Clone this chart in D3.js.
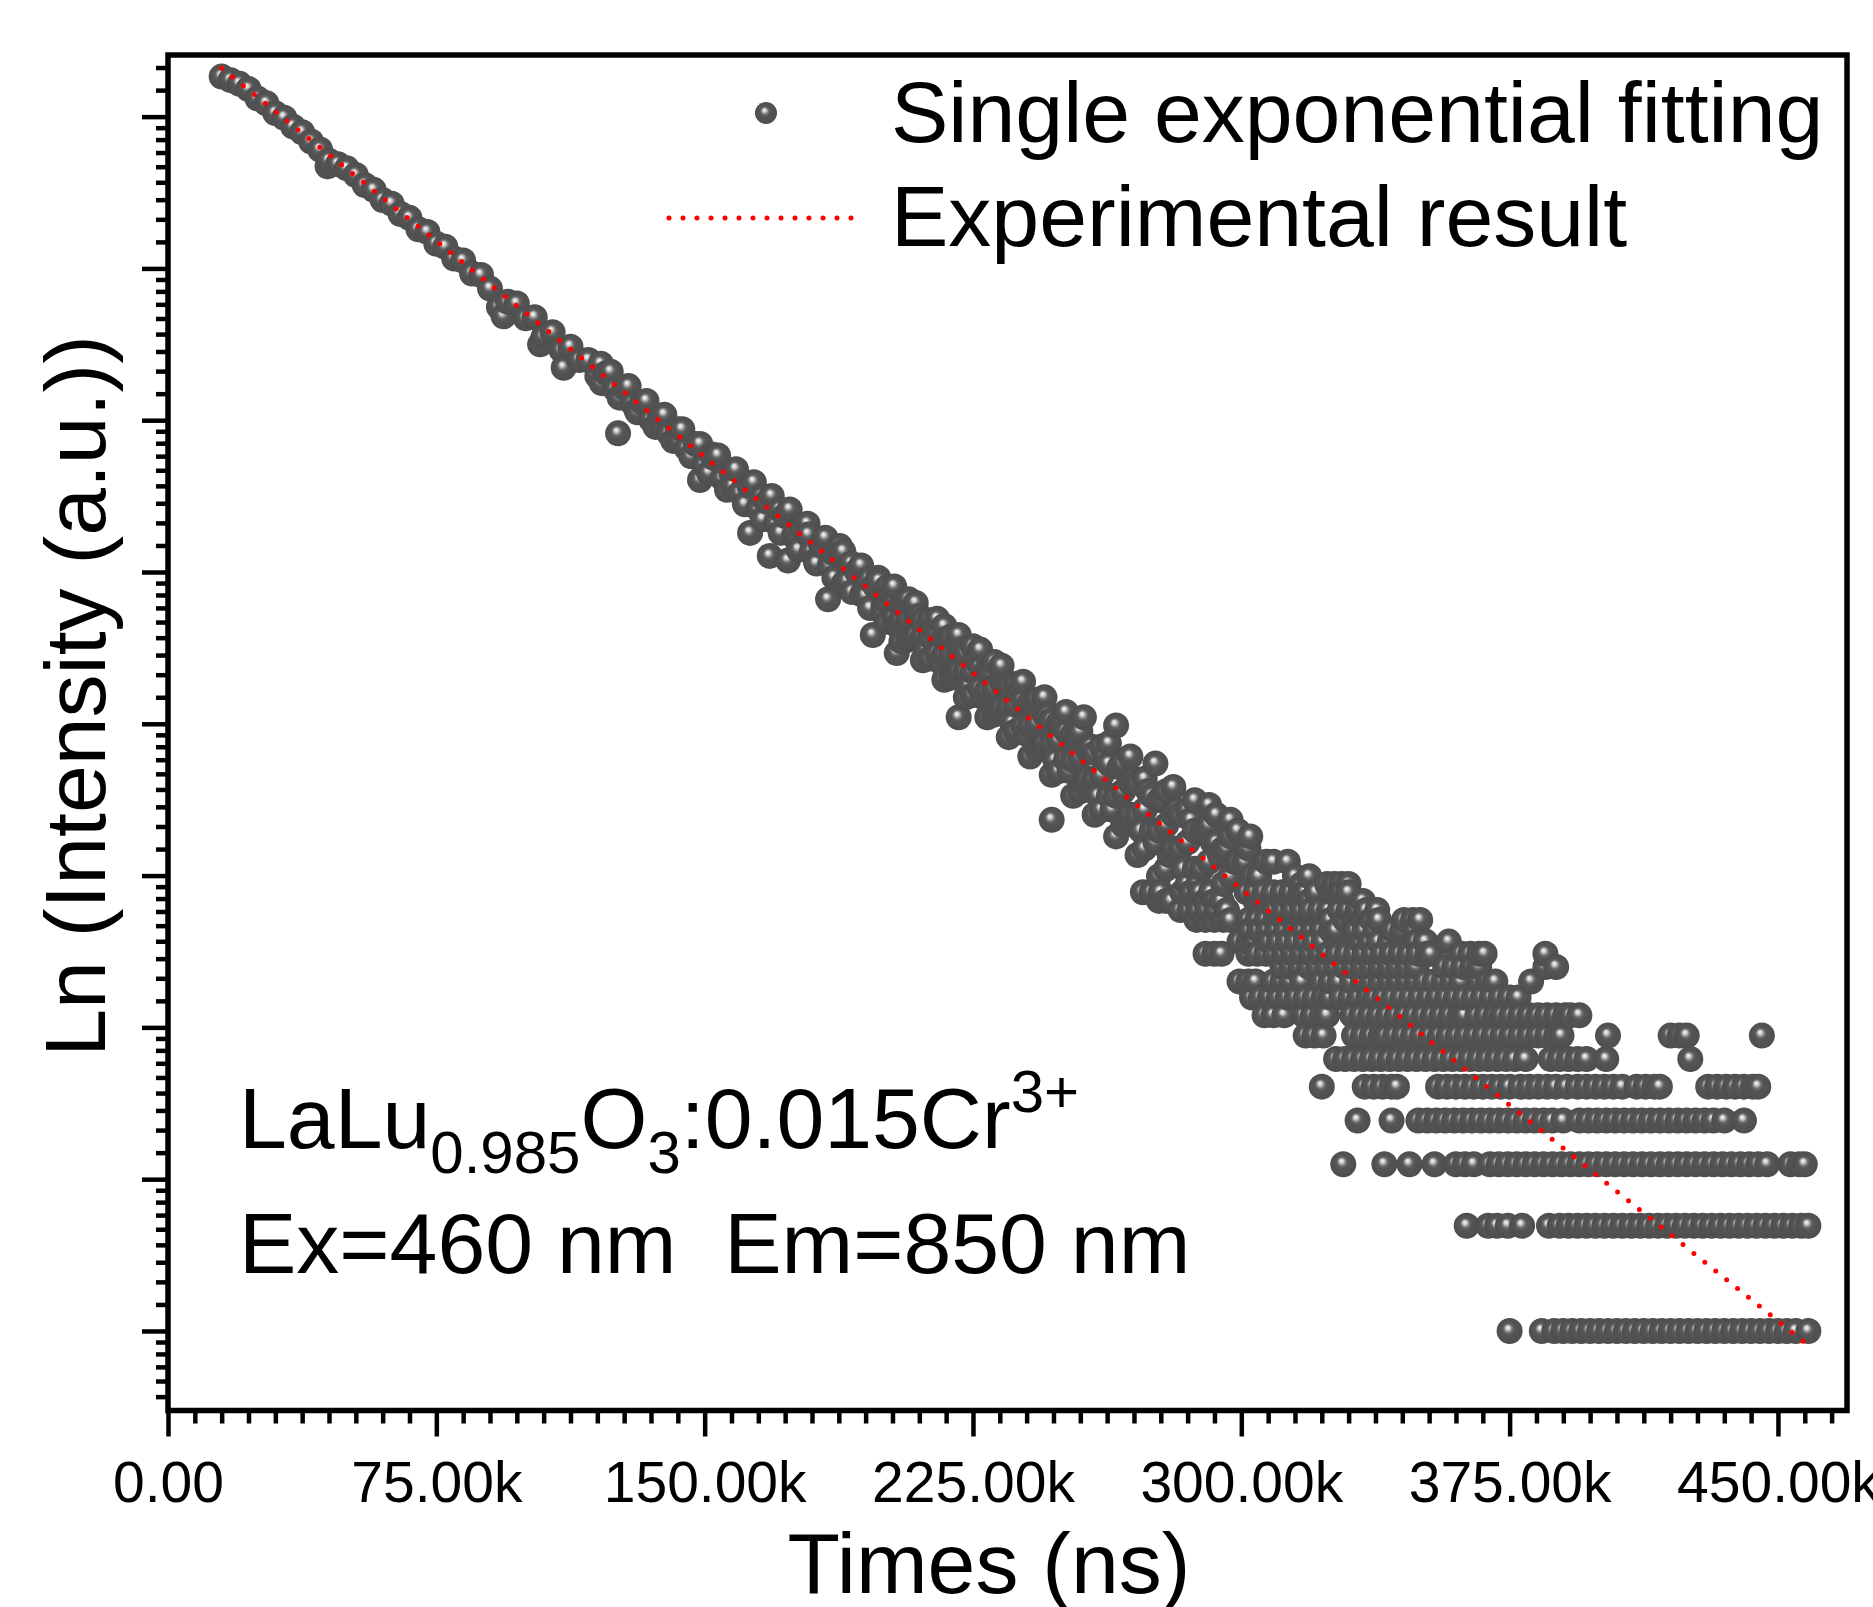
<!DOCTYPE html>
<html>
<head>
<meta charset="utf-8">
<script src="https://cdn.jsdelivr.net/npm/d3@7"></script>
<style>
  body { margin: 0; background: #fff; }
  text { font-family: "Liberation Sans", Arial, sans-serif; fill: #000; }
</style>
</head>
<body>
<svg id="chart" width="1873" height="1607"></svg>
<script>
/* ----- data (time in k·ns, photon counts) ------------------- */
const xMajorTicks = [0, 75, 150, 225, 300, 375, 450];
const legendLabels = ['Single exponential fitting', 'Experimental result'];

// straight fit on the ln axis, two ends
const fitLine = [[15, 4100], [459, 0.9]];

// clean part of the decay
const decayHead = [
  [15,3880],[17.5,3790],[20,3700],[22.5,3575],[25,3360],[27.5,3255],[30,3050],[32.5,2960],
  [35,2790],[37.5,2690],[40,2530],[42.5,2400],[45,2230],[47.5,2180],[50,2120],[52.5,2030],
  [55,1900],[57.5,1840],[60,1720],[62.5,1680],[65,1570],[67.5,1530],[70,1420],[72.5,1395],
  [75,1290],[77.5,1265],[80,1170],[82.5,1155],[85,1060],[87.5,1050],[90,960],[92.5,850],
  [95,880],[97.5,870],[100,790],[102.5,795],[105,700],[107.5,720],[110,640],[112.5,655],
  [115,600],[117.5,600],[120,540],[122.5,550],[125,495],[127.5,500],[130,450],[132.5,455],
  [135,405],[137.5,415],[140,370],[142.5,380],[145,335],[147.5,345],[150,300],[152.5,315],
  [155,275],[157.5,285],[160,250],[162.5,262],[165,225],[167.5,236],[170,205],[172.5,215],
  [175,188],[177.5,196],[180,170],[182.5,178],[185,155],[187.5,168],[190,140],[192.5,149],
  [195,127],[197.5,136],[200,118]
];

// second strand of the same stretch (points between the ones above)
const decayHeadB = [
  [121.25,515],[123.75,555],[126.25,468],[128.75,505],[131.25,425],[133.75,458],[136.25,386],
  [138.75,418],[141.25,352],[143.75,380],[146.25,318],[148.75,345],[151.25,285],[153.75,320],
  [156.25,255],[158.75,292],[161.25,232],[163.75,268],[166.25,210],[168.75,245],[171.25,192],
  [173.75,224],[176.25,172],[178.75,204],[181.25,157],[183.75,186],[186.25,143],[188.75,170],
  [191.25,130],[193.75,155],[196.25,117],[198.75,140]
];

// stray points around the clean part
const decayScatter = [
  [44.6,2150],[93.8,800],[104,665],[110.6,570],[121,585],[125.8,370],[131,430],[138,395],
  [143,352],[148.7,272],[152,322],[158,262],[162.7,192],[166,244],[168.2,165],[171,224],
  [173.3,160],[176,182],[179,190],[181,160],[183,176],[184.5,124],[186,168],[187.8,176],
  [189,138],[191,157],[194,128],[196,142],[197,98],[198.5,143]
];

// wide noisy band
const decayBand = [
  [201,107],[201,122],[201,134],[203,110],[203,124],[203,135],[203.7,87],[205,94],[205,109],[205,120],
  [207,95],[207,109],[207,124],[209,98],[209,111],[209,121],[211,83],[211,97],[211,108],
  [213,84],[213,97],[213,108],[215,87],[215,99],[215,109],[217,73],[217,86],[217,97],[217,104],
  [219,74],[219,87],[219,97],[221,77],[221,89],[221,98],[221,57],[223,65],[223,77],[223,87],
  [225,66],[225,77],[225,91],[227,69],[227,80],[227,89],[229,57],[229,68],[229,78],
  [231,58],[231,69],[231,82],[233,61],[233,72],[233,80],[235,50],[235,61],[235,70],
  [237,52],[237,62],[237,71],[239,54],[239,64],[239,72],[241,44],[241,54],[241,63],
  [243,46],[243,55],[243,64],[245,48],[245,58],[245,65],[247,39],[247,48],[247,56],[247,29],
  [249,40],[249,49],[249,55],[251,43],[251,52],[251,59],[253,34],[253,43],[253,51],
  [255,35],[255,44],[255,52],[257,38],[257,46],[256,57],[259,30],[259,38],[259,45],
  [261,31],[261,39],[261,47],[263,34],[263,42],[263,48],[265,26],[265,34],[265,54],
  [267,28],[267,35],[267,42],[269,30],[269,37],[269,44],[271,23],[271,30],[271,37],
  [273,24],[273,31],[273,38],[275,27],[275,34],[276,42],[277,20],[277,27],[277,33],
  [279,21],[279,28],[279,35],[281,24],[281,30],[281,36],[283,24],[283,30],[285,19],[285,25],[285,31],
  [287,21],[287,27],[287,33],[289,21],[289,27],[291,22],[291,28],[291,32],[293,25],[293,30],
  [295,19],[295,24],[297,20],[297,26],[297,29],[299,22],[299,27],
  [301,22],[302,24],[302.5,26],[303,20],[305,20],[307,22],[309,22],[313,22],[315,20],
  [317,19],[319,20],[324,19],[326,19],[328,19],[330,19]
];

// extra points filling the band between the ones above
const decayBandB = [
  [200,113],[202,128],[204,104],[206,120],[208,96],[210,111],[212,89],[214,103],[216,82],
  [218,96],[220,76],[222,89],[224,70],[226,83],[228,65],[230,77],[232,60],[234,71],[236,55],
  [238,67],[240,51],[242,62],[244,47],[246,58],[248,43],[250,54],[252,40],[254,50],[256,37],
  [258,47],[260,34],[262,44],[264,31],[266,41],[268,29],[270,38],[272,27],[274,35],[276,25],
  [278,33],[280,23],[282,31],[284,21],[286,29],[288,19],[290,27],[292,25],[294,23],[296,24],
  [298,22]
];

// low-count tail: each row is one integer count level
const tailLevels = [1,2,3,4,5,6,7,8,9,10,11,12,13,14,15,16,17,18];
const tailTimes = [
  [375,384,387.5,390,392.5,395,397.5,400,402.5,405,407.5,410,412.5,415,417.5,420,422.5,425,427.5,430,432.5,435,437.5,440,442.5,445,447.5,450,452.5,455,458.5],
  [363,369,371.5,374.5,378.5,386,389,391.5,394,396.5,399,401.5,404,406.5,409,411.5,414,416.5,419,421.5,424,426.5,429,431.5,434,436.5,439,441.5,444,446.5,449,451.5,454,456.5,458.5],
  [328.5,340,347,354,360,362.5,365,369.5,372,374.5,377,379.5,382,384.5,387,389.5,392,394.5,397,399.5,402,404.5,407,409.5,412,414.5,417,419.5,422,424.5,427,429.5,432,434.5,437,439.5,442,444.5,447,453.5,456,457.5],
  [332.5,342,349.5,352,354.5,357,359.5,362,364.5,367,369.5,372,374.5,377,379.5,382,384.5,387,390,394.5,397,399.5,402,404.5,407,409.5,412,414.5,417,419.5,422,424.5,427,429.5,432,435,440.5],
  [322.5,334.5,337,339.5,342,343.5,355,357.5,360,362.5,365,367.5,370,372.5,375,378,380.5,383,385.5,388,391,394,396.5,399,401.5,404,406.5,410.5,413,415.5,417,430.5,433,435.5,438,440.5,443,444.5],
  [326.5,329,331.5,334,336.5,339,341.5,344,346.5,349,351.5,354,356.5,359,361.5,364,366.5,369,371.5,374,376.5,379.5,386.5,389,391.5,394,396.5,402,425.5],
  [318,320.5,323,331.5,334,336.5,339,340.5,343,345.5,348,350.5,353,355.5,358,360.5,363,365.5,368,370.5,373,375.5,378,380.5,383,385.5,388,389.5,402.5,420,422.5,424.5,445.5],
  [306.5,309,312,317.5,320,322.5,324,331,333.5,336,338.5,341,343.5,346,348.5,351,353.5,356,358.5,361,362.5,366,368.5,371,373,375.5,378,380.5,383,385.5,388,390.5,392,394.5],
  [303,305.5,308,310.5,313,315.5,318,320.5,323,325,328,330.5,333,335.5,337.5,340,342.5,345,347.5,350,352.5,355,357.5,360,362.5,365,367.5,370,372.5,375,377.5],
  [299.5,302,304,309,311.5,314,317,322.5,325,327.5,331,334,336.5,339,341.5,344,346.5,349,351.5,354,356.5,359,361.5,366.5,369,371,381],
  [311.5,314,316.5,319,321.5,324,326.5,329,331.5,334,336.5,339,341.5,344,346.5,349,357,359.5,362,364.5,366.5,385,388],
  [290,292.5,294.5,302,304.5,307,309.5,312,314.5,317,319.5,322,324.5,327,329.5,332,334.5,337,339.5,342,344.5,347,349.5,352,353,361.5,364,366.5,368,385],
  [299.5,302,304,308,310.5,313,315.5,318,320.5,323,326.5,333.5,336,338.5,341.5,349,351.5,358],
  [302.5,305,307.5,310,312.5,315,317.5,320,322.5,325,326.5,332,334.5,337.5,342.5,345,348.5],
  [287.5,290,292.5,295,297,302,304.5,307,309.5,312,314.5,317,319.5,322,325,329,331.5,334,336.5,338.5,345.5,348,350],
  [283,285.5,288,290.5,293,296,309.5,312,314.5,317,319.5,322,324.5,327.5,330,332.5,335,338],
  [277,279,280.5,287.5,290,292.5,294.5,304,306.5,309,311.5,314,316.5,319,334],
  [272.5,275,277.5,283.5,286,288.5,291.5,301.5,304,306.5,309,311.5,314,316.5,318,321,325.5,328,330]
];

/* ----- SVG setup -------------------------------------------- */
const svg = d3.select('#chart'),
      X0 = 168, X1 = 1847, Y0 = 55, Y1 = 1410.5,
      R  = 13;

svg.append('rect').attr('width', 1873).attr('height', 1607).attr('fill', '#fff');

const defs = svg.append('defs');
const ball = defs.append('radialGradient').attr('id', 'ball')
  .attr('cx', '50%').attr('cy', '50%').attr('r', '50%')
  .attr('fx', '42%').attr('fy', '36%');
[[0, '#f6f6f6'], [0.14, '#d4d4d4'], [0.34, '#6c6c6c'], [0.48, '#555'], [1, '#4e4e4e']]
  .forEach(([o, c]) => ball.append('stop').attr('offset', o).attr('stop-color', c));

/* ----- scales ------------------------------------------------ */
const x = d3.scaleLinear().domain([0, 469.3]).range([X0, X1]);
const y = d3.scaleLog().base(Math.E)
  .domain([Math.exp(-0.524), Math.exp(8.406)]).range([Y1, Y0]);

/* ----- points ------------------------------------------------ */
const points = [...decayHead, ...decayHeadB, ...decayScatter, ...decayBand, ...decayBandB];
tailLevels.forEach((c, i) => tailTimes[i].forEach(t => points.push([t, c])));
points.sort((a, b) => a[0] - b[0]);

svg.append('g').selectAll('circle')
  .data(points)
  .join('circle')
    .attr('cx', d => x(d[0]))
    .attr('cy', d => y(d[1]))
    .attr('r', R)
    .attr('fill', 'url(#ball)');

/* fit line (red dots) */
const dotted = sel => sel
  .attr('fill', 'none').attr('stroke', '#ff0000')
  .attr('stroke-width', 5).attr('stroke-linecap', 'round')
  .attr('stroke-dasharray', '0 14');

svg.append('path')
  .datum(fitLine)
  .attr('d', d3.line().x(d => x(d[0])).y(d => y(d[1])))
  .call(dotted);

/* ----- axes -------------------------------------------------- */
function styleAxis(g) {
  g.select('.domain').remove();
  g.selectAll('.tick line').attr('stroke', '#000').attr('stroke-width', 4.5);
}

const xMinor = d3.range(7.5, 469, 7.5).filter(v => !xMajorTicks.includes(v));

svg.append('g').attr('transform', `translate(0,${Y1})`)
  .call(d3.axisBottom(x).tickValues(xMinor).tickSize(13).tickFormat(''))
  .call(styleAxis);

svg.append('g').attr('transform', `translate(0,${Y1})`)
  .call(d3.axisBottom(x).tickValues(xMajorTicks).tickSize(26).tickPadding(25)
    .tickFormat(d => d === 0 ? '0.00' : d.toFixed(2) + 'k'))
  .call(styleAxis)
  .call(g => g.selectAll('text')
    .style('font-family', '"Liberation Sans", Arial, sans-serif')
    .style('font-size', '57px').attr('fill', '#000'));

const yMajor = d3.range(0, 9).map(Math.exp);
const yMinor = [];
for (let n = -1; n <= 8; n++) {
  const a = Math.exp(n), b = Math.exp(n + 1);
  for (let k = 1; k <= 8; k++) {
    const v = a + k * (b - a) / 9;
    if (v > y.domain()[0] && v < y.domain()[1]) yMinor.push(v);
  }
}

svg.append('g').attr('transform', `translate(${X0},0)`)
  .call(d3.axisLeft(y).tickValues(yMinor).tickSize(12).tickFormat(''))
  .call(styleAxis);

svg.append('g').attr('transform', `translate(${X0},0)`)
  .call(d3.axisLeft(y).tickValues(yMajor).tickSize(26).tickFormat(''))
  .call(styleAxis);

/* frame */
svg.append('rect')
  .attr('x', X0).attr('y', Y0).attr('width', X1 - X0).attr('height', Y1 - Y0)
  .attr('fill', 'none').attr('stroke', '#000').attr('stroke-width', 5.5);

/* axis titles */
svg.append('text')
  .attr('x', 989).attr('y', 1593).attr('text-anchor', 'middle')
  .style('font-size', '86px')
  .text('Times (ns)');

svg.append('text')
  .attr('transform', 'translate(105,696) rotate(-90)')
  .attr('text-anchor', 'middle')
  .style('font-size', '86px')
  .text('Ln (Intensity (a.u.))');

/* ----- legend ------------------------------------------------ */
svg.append('circle').attr('cx', 766).attr('cy', 113).attr('r', 11).attr('fill', 'url(#ball)');
svg.append('path').attr('d', 'M669,218H852').call(dotted);

legendLabels.forEach((s, i) => {
  svg.append('text')
    .attr('x', 891).attr('y', 142 + i * 104)
    .style('font-size', '86px')
    .text(s);
});

/* ----- sample note ------------------------------------------ */
const note = svg.append('text').attr('x', 239).attr('y', 1148).style('font-size', '86px');
note.append('tspan').text('LaLu');
note.append('tspan').attr('dy', 25).style('font-size', '60px').text('0.985');
note.append('tspan').attr('dy', -25).text('O');
note.append('tspan').attr('dy', 25).style('font-size', '60px').text('3');
note.append('tspan').attr('dy', -25).text(':0.015Cr');
note.append('tspan').attr('dy', -36).style('font-size', '60px').text('3+');

svg.append('text')
  .attr('x', 239).attr('y', 1273)
  .style('font-size', '86px').style('white-space', 'pre')
  .text('Ex=460 nm  Em=850 nm');
</script>
</body>
</html>
